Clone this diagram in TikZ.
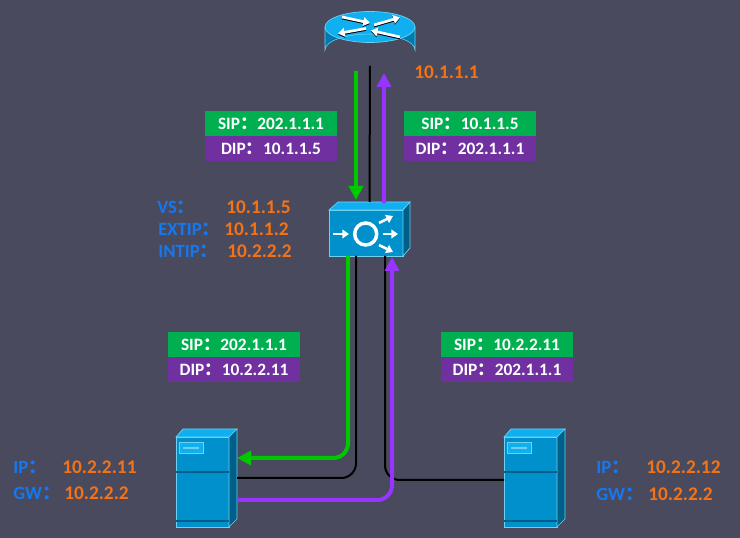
\documentclass[tikz,border=0pt]{standalone}
\usepackage{fontspec}
\setmainfont{Carlito}
\newfontfamily\cjk{Noto Sans CJK SC}
\usetikzlibrary{arrows.meta}
\definecolor{bgslate}{HTML}{4A4A5E}
\definecolor{tagGreen}{HTML}{00B050}
\definecolor{tagPurple}{HTML}{7030A0}
\definecolor{flowGreen}{HTML}{00C800}
\definecolor{flowPurple}{HTML}{9933FF}
\definecolor{nameBlue}{HTML}{1478F0}
\definecolor{addrOrange}{HTML}{F57314}
\definecolor{iconTop}{HTML}{10B0F0}
\definecolor{iconFront}{HTML}{0090CC}
\definecolor{iconSide}{HTML}{005F88}
\definecolor{iconEdge}{HTML}{70D0F0}
\newcommand{\zc}{{\cjk\bfseries ：}}
\newcommand{\servericon}[1]{%
  \begin{scope}[xshift=#1*0.75pt]
    \draw[iconEdge, fill=iconFront, line width=0.5pt] (0,437) rectangle (53,527);
    \draw[iconEdge, fill=iconTop, line width=0.5pt] (0,437) -- (7,429) -- (61,429) -- (53,437) -- cycle;
    \draw[iconEdge, fill=iconSide, line width=0.5pt] (53,437) -- (61,429) -- (61,519) -- (53,527) -- cycle;
    \draw[iconSide, line width=0.8pt] (0,472) -- (53,472);
    \draw[iconSide, line width=0.8pt] (0,521) -- (53,521);
    \draw[iconEdge, fill=iconTop, line width=0.5pt] (3,442) rectangle (27,453);
    \draw[iconEdge, line width=1pt] (7,448) -- (23,448);
  \end{scope}}
\tikzset{
  tagbox/.style={minimum width=99pt, minimum height=18.8pt, inner sep=0pt,
      text=white, font=\fontsize{13}{15}\selectfont\bfseries},
  siptag/.style={tagbox, fill=tagGreen},
  diptag/.style={tagbox, fill=tagPurple},
  namelbl/.style={anchor=west, inner sep=0pt, text=nameBlue,
      font=\fontsize{14}{16}\selectfont\bfseries},
  addrlbl/.style={anchor=west, inner sep=0pt, text=addrOrange,
      font=\fontsize{14.5}{16}\selectfont\bfseries},
  cable/.style={black, line width=1.5pt, rounded corners=11pt},
  greenflow/.style={flowGreen, line width=3pt, rounded corners=11pt,
      -{Triangle[length=10.5pt, width=10.5pt]}},
  purpleflow/.style={flowPurple, line width=3pt, rounded corners=11pt,
      -{Triangle[length=10.5pt, width=10.5pt]}},
  iconarrow/.style={white, line width=2pt, -{Triangle[length=5pt, width=6.5pt]}},
  iconshade/.style={black, line width=2pt, -{Triangle[length=5pt, width=6.5pt]}},
  hitbox/.style={inner sep=0pt, outer sep=0pt}
}
\begin{document}
\begin{tikzpicture}[x=0.75pt, y=-0.75pt]

\fill[bgslate] (0,0) rectangle (740,538);
\useasboundingbox (0,0) rectangle (740,538);

\fill[iconFront!85!black] (325,27) -- (325,50) arc[start angle=180, end angle=360, x radius=45, y radius=16] -- (415,27) -- cycle;
\draw[iconEdge, line width=0.5pt, fill=iconTop] (370,27) ellipse[x radius=45, y radius=15.5];
\draw[iconEdge, line width=0.4pt] (325,27) -- (325,50) arc[start angle=180, end angle=360, x radius=45, y radius=16] -- (415,27);
\draw[iconshade] (342,18) -- (370,24);
\draw[iconshade] (374,26) -- (400,18.5);
\draw[iconshade] (366,29.5) -- (338,34.5);
\draw[iconshade] (400,38) -- (371,31.5);
\draw[iconarrow] (342,17) -- (370,23);
\draw[iconarrow] (374,25) -- (400,17.5);
\draw[iconarrow] (366,28.5) -- (338,33.5);
\draw[iconarrow] (400,37) -- (371,30.5);
\node[hitbox, minimum width=67.5pt, minimum height=40.5pt] (router) at (370,39) {};

\draw[iconEdge, fill=iconFront, line width=0.5pt] (329,210) rectangle (403,256);
\draw[iconEdge, fill=iconTop, line width=0.5pt] (329,210) -- (338,202) -- (410,202) -- (403,210) -- cycle;
\draw[iconEdge, fill=iconSide, line width=0.5pt] (403,210) -- (410,202) -- (410,248) -- (403,256) -- cycle;
\draw[white, line width=2.6pt] (365.7,234) circle[radius=11];
\draw[iconarrow] (333,234) -- (349,234);
\draw[iconarrow] (379,223) -- (393,216);
\draw[iconarrow] (383,234) -- (398,234);
\draw[iconarrow] (379,245) -- (393,252);
\node[hitbox, minimum width=60.75pt, minimum height=40.5pt] (lb) at (369.5,229) {};

\servericon{176}
\node[hitbox, minimum width=45.75pt, minimum height=73.5pt] (srvA) at (206.5,478) {};
\servericon{504}
\node[hitbox, minimum width=45.75pt, minimum height=73.5pt] (srvB) at (534.5,478) {};

\coordinate (lbA) at (356,256);
\coordinate (lbB) at (385,256);
\coordinate (lbGreen) at (348,256);
\coordinate (lbPurple) at (392,257);
\coordinate (upGreen) at (356,71);
\coordinate (inGreen) at (356,200);
\coordinate (upPurple) at (384,73);
\coordinate (outPurple) at (384,203);

\draw[cable] (router.south) -- (lb.north);
\draw[cable] (lbA) |- (srvA.east);
\draw[cable] (lbB) |- ([yshift=-1.5pt]srvB.west);

\draw[greenflow] (upGreen) -- (inGreen);
\draw[purpleflow] (outPurple) -- (upPurple);
\draw[greenflow] (lbGreen) |- ([yshift=15pt]srvA.east);
\draw[purpleflow] ([yshift=-16.5pt]srvA.east) -| (lbPurple);

\node[siptag] (sipA) at (271,123.5) {SIP\zc 202.1.1.1};
\node[diptag] (dipA) at (271,148.5) {DIP\zc 10.1.1.5};
\node[siptag] (sipB) at (470,123.5) {SIP\zc 10.1.1.5};
\node[diptag] (dipB) at (470,148.5) {DIP\zc 202.1.1.1};
\node[siptag] (sipC) at (234,344.5) {SIP\zc 202.1.1.1};
\node[diptag] (dipC) at (234,369.5) {DIP\zc 10.2.2.11};
\node[siptag] (sipD) at (507,344.5) {SIP\zc 10.2.2.11};
\node[diptag] (dipD) at (507,369.5) {DIP\zc 202.1.1.1};

\node[addrlbl] (routerip) at (414,72) {10.1.1.1};

\node[namelbl] (vsname) at (157,207) {VS\zc};
\node[addrlbl] (vsip) at (226,207) {10.1.1.5};
\node[namelbl] (extname) at (158,229) {EXTIP\zc};
\node[addrlbl] (extip) at (224,229) {10.1.1.2};
\node[namelbl] (intname) at (158,251) {INTIP\zc};
\node[addrlbl] (intip) at (227,251) {10.2.2.2};

\node[namelbl] (ipnameA) at (13,467) {IP\zc};
\node[addrlbl] (ipA) at (62,467) {10.2.2.11};
\node[namelbl] (gwnameA) at (13,493) {GW\zc};
\node[addrlbl] (gwA) at (64,493) {10.2.2.2};

\node[namelbl] (ipnameB) at (596,467) {IP\zc};
\node[addrlbl] (ipB) at (646,467) {10.2.2.12};
\node[namelbl] (gwnameB) at (596,494) {GW\zc};
\node[addrlbl] (gwB) at (648,494) {10.2.2.2};

\end{tikzpicture}
\end{document}
